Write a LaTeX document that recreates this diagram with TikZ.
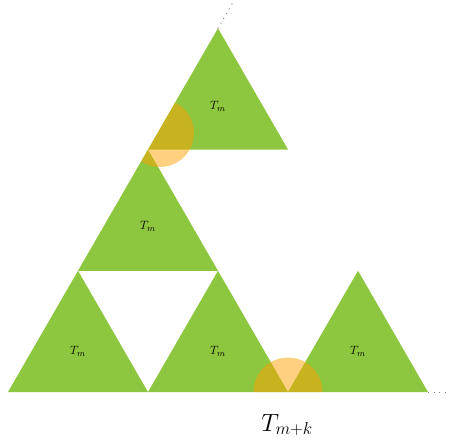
\documentclass[tikz,border=0pt]{standalone}
\definecolor{trigreen}{RGB}{141,198,63}
\definecolor{blob}{RGB}{255,162,0}
\begin{document}
\begin{tikzpicture}[x=1pt,y=-1pt,
  tri/.style={fill=trigreen,draw=none},
  lbl/.style={font=\fontsize{13}{15}\selectfont},
  disc/.style={fill=blob,fill opacity=0.5,draw=none},
  dots/.style={gray,line width=1pt,dash pattern=on 0.9pt off 4.6pt}]
\useasboundingbox (0,0) rectangle (452,447);
% corners
\coordinate (A1) at (8,392);   \coordinate (B1) at (148,392); \coordinate (C1) at (78,270.76);
\coordinate (A2) at (148,392); \coordinate (B2) at (288,392); \coordinate (C2) at (218,270.76);
\coordinate (A3) at (288,392); \coordinate (B3) at (428,392); \coordinate (C3) at (358,270.76);
\coordinate (A4) at (78,270.76); \coordinate (B4) at (218,270.76); \coordinate (C4) at (148,149.52);
\coordinate (A5) at (148,149.52); \coordinate (B5) at (288,149.52); \coordinate (C5) at (218,28.28);
\foreach \i in {1,...,5}{\fill[tri] (A\i) -- (B\i) -- (C\i) -- cycle;}
% discs clipped to the big triangle
\begin{scope}
  \clip (A1) -- (B3) -- (C5) -- cycle;
  \fill[disc] (160,133) circle (34);
  \fill[disc] (B2) circle (34.5);
\end{scope}
% labels
\node[lbl] (t1) at (78,351) {$T_m$};
\node[lbl] (t2) at (218,351) {$T_m$};
\node[lbl] (t3) at (358,351) {$T_m$};
\node[lbl] (t4) at (148,226) {$T_m$};
\node[lbl] (t5) at (218,106) {$T_m$};
\node[font=\fontsize{24}{28}\selectfont] (big) at (287,425) {$T_{m+k}$};
% continuation dots
\coordinate (e1) at (234,0.5);
\coordinate (e2) at (450,392);
\draw[dots] (C5) -- (e1);
\draw[dots] (B3) -- (e2);
\end{tikzpicture}
\end{document}
